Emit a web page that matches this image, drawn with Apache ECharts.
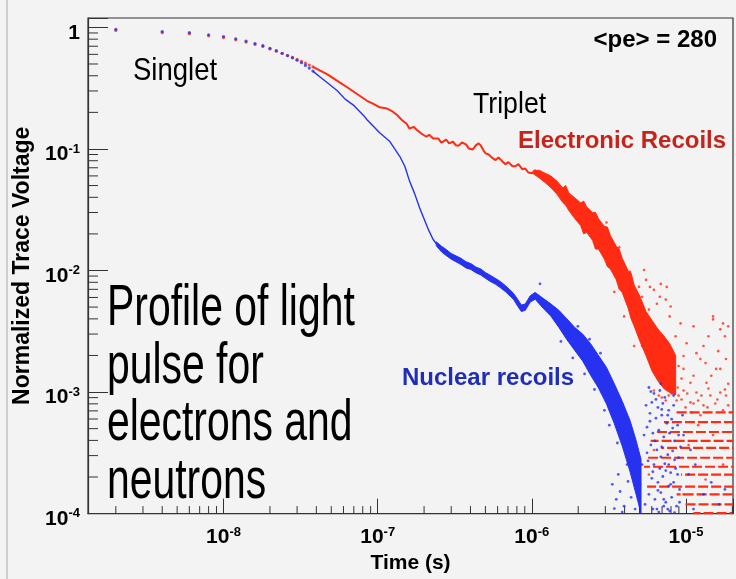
<!DOCTYPE html>
<html><head><meta charset="utf-8">
<script src="https://cdn.jsdelivr.net/npm/echarts@6/dist/echarts.min.js"></script>
<style>html,body{margin:0;padding:0;background:#f3f3f3;}#c{width:736px;height:579px;}</style>
</head><body><div id="c"></div>
<script>
// ---------- axis ranges ----------
const X_MIN = 1.32e-9, X_MAX = 2.02e-5;
const Y_MIN = 1e-4, Y_MAX = 1.195;

// ---------- early sampled points (2 ns steps) ----------
const earlyT  = [2e-9,4e-9,6e-9,8e-9,1.0e-8,1.2e-8,1.4e-8,1.6e-8,1.8e-8,2.0e-8,2.2e-8,2.4e-8,2.6e-8,2.8e-8,3.0e-8,3.2e-8,3.4e-8,3.6e-8,3.8e-8];
const nrEarly = [0.965,0.925,0.905,0.870,0.842,0.805,0.772,0.737,0.707,0.673,0.644,0.613,0.586,0.562,0.537,0.512,0.487,0.463,0.437];
const erEarly = [0.945,0.905,0.888,0.852,0.825,0.790,0.758,0.724,0.697,0.665,0.638,0.610,0.586,0.566,0.545,0.525,0.508,0.490,0.474];

// ---------- Electronic recoils: continuous trace ----------
const erLineT = [3.8e-8,4.0e-8,4.72e-8,5.47e-8,6.34e-8,7.35e-8,8.53e-8,9.46e-8,1.03e-7,1.15e-7,1.23e-7,1.33e-7,1.43e-7,1.54e-7,1.61e-7,1.71e-7,1.79e-7,1.92e-7,2.07e-7,2.16e-7,2.29e-7,2.47e-7,2.58e-7,2.66e-7,2.78e-7,2.91e-7,3.08e-7,3.22e-7,3.37e-7,3.52e-7,3.74e-7,3.90e-7,4.14e-7,4.33e-7,4.52e-7,4.66e-7,4.87e-7,5.02e-7,5.25e-7,5.57e-7,5.82e-7,6.08e-7,6.45e-7,6.75e-7,7.06e-7,7.49e-7,7.83e-7,8.19e-7,8.69e-7,9.07e-7,9.49e-7,1.007e-6,1.05e-6,1.10e-6];
const erLineV = [0.474,0.458,0.411,0.363,0.322,0.283,0.249,0.234,0.220,0.215,0.206,0.191,0.174,0.161,0.147,0.152,0.144,0.134,0.126,0.131,0.122,0.122,0.113,0.115,0.1195,0.111,0.115,0.107,0.107,0.113,0.109,0.101,0.099,0.107,0.111,0.107,0.097,0.092,0.090,0.084,0.081,0.085,0.079,0.075,0.078,0.072,0.072,0.075,0.068,0.069,0.064,0.063,0.067,0.060];

// ---------- Electronic recoils: noisy band (upper / lower envelope) ----------
const erBandT  = [1.021e-6,1.115e-6,1.219e-6,1.332e-6,1.455e-6,1.591e-6,1.66e-6,1.738e-6,1.900e-6,2.076e-6,2.17e-6,2.268e-6,2.479e-6,2.59e-6,2.708e-6,2.959e-6,3.09e-6,3.233e-6,3.533e-6,3.69e-6,3.861e-6,4.219e-6,4.41e-6,4.610e-6,5.037e-6,5.504e-6,6.014e-6,6.572e-6,7.181e-6,7.847e-6,8.575e-6];
const erBandHi = [0.0660,0.0669,0.0632,0.0598,0.0544,0.0477,0.0500,0.0435,0.0396,0.0360,0.0372,0.0334,0.0299,0.0300,0.0267,0.0230,0.0228,0.0194,0.0158,0.0150,0.0126,0.0099,0.0095,0.0076,0.0061,0.0046,0.0039,0.0033,0.0029,0.0025,0.0020];
const erBandLo = [0.0625,0.0580,0.0530,0.0480,0.0425,0.0362,0.0345,0.0312,0.0268,0.0234,0.0200,0.0206,0.0177,0.0150,0.0150,0.0124,0.0108,0.0103,0.0084,0.0070,0.0066,0.0049,0.0040,0.0035,0.0026,0.0020,0.0015,0.00124,0.00107,0.00099,0.00095];

// ---------- Electronic recoils: scattered late samples ----------
const erDots = [[5.51e-6,8.37e-3],[6.20e-6,6.93e-3],[6.87e-6,7.76e-3],[7.51e-6,7.33e-3],[7.40e-6,5.76e-3],[7.96e-6,5.05e-3],[5.75e-6,4.77e-3],[6.48e-6,5.33e-3],[5.35e-6,1.01e-2],[9.23e-6,3.67e-3],[1.01e-5,2.52e-3],[1.24e-5,1.87e-3],[1.50e-5,3.96e-3],[1.67e-5,3.28e-3],[1.79e-5,2.88e-3],[1.12e-5,1.36e-3],[1.36e-5,1.19e-3],[1.57e-5,1.55e-3],[1.82e-5,1.87e-3],[1.17e-5,9.92e-4],[1.44e-5,9.37e-4],[1.67e-5,9.92e-4],[1.07e-5,8.22e-4],[1.30e-5,7.77e-4],[1.88e-5,7.77e-4],[1.50e-5,4.19e-3],[1.74e-5,3.67e-3],[1.17e-5,2.09e-3],[1.34e-5,1.73e-3],[1.67e-5,1.55e-3],[9.65e-6,1.55e-3],[1.07e-5,1.19e-3],[1.82e-5,9.37e-4],[8.96e-6,9.37e-4],[9.65e-6,1.03e-3],[9.94e-6,7.48e-4],[1.20e-5,8.53e-4],[1.40e-5,1.07e-3],[1.55e-5,8.06e-4],[1.74e-5,7.07e-4],[1.24e-5,6.45e-4],[1.087e-5,6.81e-4],[9.37e-6,1.29e-3],[1.46e-5,1.36e-3],[1.88e-5,1.17e-3],[3.05e-6,2.48e-2],[3.69e-6,1.55e-2],[4.34e-6,9.74e-3],[4.96e-6,7.33e-3],[5.19e-6,2.39e-3],[6.20e-6,1.03e-3],[6.97e-6,9.03e-4],[8.70e-6,8.53e-4],[7.73e-6,9.37e-4],[4.61e-6,2.39e-3],[3.97e-6,4.19e-3],[3.43e-6,6.67e-3],
  [6.67e-6,9.37e-4],[7.40e-6,8.53e-4],[8.08e-6,9.74e-4],[8.83e-6,1.09e-3],[9.37e-6,8.69e-4],[1.02e-5,9.74e-4],[1.12e-5,8.06e-4],[1.26e-5,9.37e-4],[1.38e-5,7.48e-4],[1.60e-5,8.69e-4],[1.79e-5,1.05e-3],[9.65e-6,1.98e-3],[1.30e-5,2.39e-3],[1.62e-5,2.17e-3],[1.88e-5,3.47e-3],[1.12e-5,3.47e-3],[1.40e-5,2.88e-3],[8.96e-6,1.64e-3],[5.19e-6,6.09e-3],[5.84e-6,7.33e-3],[6.77e-6,6.09e-3],[7.84e-6,4.19e-3],[8.57e-6,2.88e-3],[8.32e-6,1.98e-3],[1.20e-5,5.34e-4],[1.50e-5,4.43e-4],[1.04e-5,3.67e-4],[1.74e-5,2.53e-4],[1.34e-5,1.91e-4],[9.65e-6,1.44e-4],[6.20e-6,3.34e-4],[5.75e-6,2.10e-4]];

// ---------- Electronic recoils: quantised levels at late times ----------
const erRowLevel = [6.81e-4,5.65e-4,4.69e-4,3.96e-4,3.47e-4,2.88e-4,2.43e-4,2.09e-4,1.67e-4,1.44e-4,1.19e-4,1.01e-4];
const erRowStart = [8.7e-6,7.2e-6,6.2e-6,5.9e-6,6.9e-6,5.6e-6,5.35e-6,9.3e-6,5.6e-6,8.7e-6,9.65e-6,1.12e-5];

// ---------- Nuclear recoils: continuous trace ----------
const nrLineT = [3.8e-8,4.25e-8,4.72e-8,5.47e-8,6.15e-8,7.03e-8,8.15e-8,8.53e-8,1.03e-7,1.20e-7,1.39e-7,1.50e-7,1.61e-7,1.74e-7,1.87e-7,2.01e-7,2.13e-7,2.29e-7,2.40e-7];
const nrLineV = [0.437,0.389,0.350,0.301,0.257,0.227,0.187,0.174,0.136,0.115,0.087,0.0721,0.0544,0.0427,0.0328,0.0262,0.0218,0.0180,0.0166];

// ---------- Nuclear recoils: noisy band ----------
const nrBandT  = [2.40e-7,2.60e-7,2.78e-7,3.00e-7,3.22e-7,3.47e-7,3.74e-7,4.02e-7,4.33e-7,4.66e-7,5.02e-7,5.41e-7,5.82e-7,6.27e-7,6.75e-7,7.60e-7,8.09e-7,8.55e-7,9.07e-7,9.77e-7,1.051e-6,1.184e-6,1.332e-6,1.499e-6,1.688e-6,1.900e-6,2.138e-6,2.406e-6,2.708e-6,3.048e-6,3.430e-6,3.861e-6,4.345e-6,4.748e-6,5.112e-6];
const nrBandHi = [0.0172,0.0158,0.0149,0.0138,0.0132,0.0126,0.0118,0.0114,0.0107,0.0103,0.0096,0.0091,0.0086,0.0081,0.0075,0.0065,0.0058,0.0052,0.0053,0.0062,0.0066,0.0059,0.0053,0.0047,0.0040,0.0034,0.0030,0.0025,0.0020,0.0016,0.00117,0.00084,0.00058,0.00040,0.00028];
const nrBandLo = [0.0160,0.0142,0.0133,0.0124,0.0118,0.0112,0.0105,0.0102,0.0096,0.0092,0.0086,0.0081,0.0077,0.0072,0.0067,0.0058,0.0051,0.0046,0.0047,0.0055,0.0058,0.0049,0.0042,0.0034,0.0027,0.0022,0.0018,0.00138,0.00108,0.00080,0.00055,0.00036,0.00022,0.000144,0.0001];

// ---------- Nuclear recoils: scattered late samples ----------
const nrDots = [[5.75e-6,1.09e-3],[6.20e-6,9.74e-4],[6.77e-6,1.03e-3],[7.29e-6,9.03e-4],[6.01e-6,8.22e-4],[6.58e-6,7.48e-4],[7.08e-6,8.06e-4],[7.73e-6,7.07e-4],[8.32e-6,7.77e-4],[5.84e-6,6.68e-4],[6.39e-6,6.10e-4],[6.97e-6,6.45e-4],[7.51e-6,5.54e-4],[8.08e-6,5.98e-4],[8.83e-6,5.34e-4],[5.59e-6,5.14e-4],[6.10e-6,4.59e-4],[6.67e-6,4.86e-4],[7.18e-6,4.27e-4],[7.84e-6,4.59e-4],[8.44e-6,3.96e-4],[5.92e-6,3.67e-4],[6.48e-6,3.34e-4],[6.97e-6,3.54e-4],[7.62e-6,3.05e-4],[8.20e-6,3.28e-4],[8.96e-6,2.88e-4],[5.68e-6,2.72e-4],[6.20e-6,2.53e-4],[6.77e-6,2.35e-4],[7.29e-6,2.57e-4],[7.96e-6,2.17e-4],[8.57e-6,2.35e-4],[6.01e-6,1.95e-4],[6.58e-6,1.81e-4],[7.08e-6,2.02e-4],[7.73e-6,1.68e-4],[8.32e-6,1.81e-4],[9.09e-6,1.58e-4],[5.75e-6,1.44e-4],[6.29e-6,1.31e-4],[6.87e-6,1.49e-4],[7.40e-6,1.24e-4],[8.08e-6,1.36e-4],[8.70e-6,1.15e-4],[6.10e-6,1.09e-4],[6.67e-6,1.03e-4],[7.18e-6,1.15e-4],[7.84e-6,1.05e-4],[8.44e-6,1.02e-4],[3.33e-6,1.74e-4],[3.53e-6,1.31e-4],[3.74e-6,1.52e-4],[3.97e-6,1.15e-4],[4.21e-6,1.84e-4],[4.41e-6,1.36e-4],[4.68e-6,1.09e-4],[3.64e-6,2.10e-4],[4.15e-6,2.53e-4],[4.96e-6,1.58e-4],[3.86e-6,1.03e-4],[3.43e-6,1.10e-4],[1.04e-5,2.10e-4],[1.15e-5,2.53e-4],[1.30e-5,1.44e-4],[1.46e-5,1.81e-4],[1.64e-5,1.19e-4],[1.79e-5,1.58e-4],[1.12e-5,1.09e-4],[9.65e-6,4.43e-4],[1.07e-5,3.34e-4],[1.545e-6,2.61e-3],[1.844e-6,1.91e-3],[2.20e-6,1.41e-3],[2.55e-6,1.05e-3],[2.96e-6,7.07e-4],[3.185e-6,5.34e-4],[3.59e-6,3.81e-4],[1.99e-6,3.47e-3],[2.37e-6,2.72e-3],[2.79e-6,2.09e-3],[1.13e-6,7.77e-3],
  [5.92e-6,1.01e-3],[6.39e-6,8.69e-4],[6.97e-6,7.20e-4],[7.62e-6,6.45e-4],[8.20e-6,5.05e-4],[8.96e-6,4.43e-4],[5.84e-6,5.75e-4],[6.29e-6,3.96e-4],[6.87e-6,2.93e-4],[7.40e-6,2.26e-4],[7.96e-6,1.74e-4],[8.83e-6,2.10e-4],[5.59e-6,3.16e-4],[6.10e-6,2.21e-4],[6.58e-6,1.55e-4],[7.18e-6,1.31e-4],[7.73e-6,2.53e-4],[8.44e-6,2.77e-4],[9.23e-6,3.54e-4],[9.51e-6,6.45e-4],[5.51e-6,7.77e-4],[5.35e-6,4.43e-4],[5.19e-6,2.53e-4],[5.04e-6,1.74e-4],[5.43e-6,1.19e-4],[6.48e-6,1.09e-4],[7.62e-6,1.09e-4],[9.09e-6,1.24e-4],[8.32e-6,9.37e-4],[6.87e-6,1.17e-3]];

// ---------- styles ----------
const RED = '#ff2b12', BLUE = '#2632f0';
const FONT = '"Liberation Sans", Arial, Helvetica, sans-serif';
const AX = '#333';

function powLabel(v) {
  const e = Math.log10(v), r = Math.round(e);
  if (Math.abs(e - r) > 1e-6) return '';
  if (r === 0) return '{b|1}';
  return '{b|10}{s|' + r + '}';
}
const rich = {
  b: {fontSize: 21, fontWeight: 'bold', fontFamily: FONT, color: '#000', lineHeight: 24},
  s: {fontSize: 13, fontWeight: 'bold', fontFamily: FONT, color: '#000', lineHeight: 11, verticalAlign: 'top'}
};

// minor log ticks (2..9 per decade)
const xMinor = [], yMinor = [];
for (let d = -9; d <= -4; d++) for (let k = 2; k <= 9; k++) { const v = k * Math.pow(10, d); if (v > X_MIN && v < X_MAX) xMinor.push([v, Y_MIN]); }
for (let d = -4; d <= 0; d++) for (let k = 2; k <= 9; k++) { const v = k * Math.pow(10, d); if (v > Y_MIN && v < Y_MAX) yMinor.push([X_MIN, v]); }

function bandSeries(T, HI, LO, color) {
  return {
    type: 'custom', coordinateSystem: 'cartesian2d', silent: true, clip: true,
    data: [[T[0], HI[0]]],
    renderItem: function (params, api) {
      const pts = [];
      for (let i = 0; i < T.length; i++) pts.push(api.coord([T[i], HI[i]]));
      for (let i = T.length - 1; i >= 0; i--) pts.push(api.coord([T[i], LO[i]]));
      return {type: 'polygon', shape: {points: pts}, style: {fill: color, stroke: color, lineWidth: 1}};
    }
  };
}
function zip(T, V) { return T.map((t, i) => [t, V[i]]); }

const option = {
  animation: false,
  backgroundColor: '#f3f3f3',
  grid: {left: 88, top: 18, right: -4, bottom: 58, show: true, borderColor: AX, borderWidth: 1.2, backgroundColor: 'transparent'},
  xAxis: {
    type: 'log', logBase: 10, min: X_MIN, max: X_MAX,
    name: 'Time (s)', nameLocation: 'middle', nameGap: 32,
    nameTextStyle: {fontSize: 21, fontWeight: 'bold', fontFamily: FONT, color: '#000'},
    axisLine: {lineStyle: {color: AX, width: 1.2}},
    axisTick: {inside: true, length: 15, lineStyle: {color: AX, width: 1}},
    axisLabel: {formatter: powLabel, rich: rich, margin: 12},
    splitLine: {show: false}, minorTick: {show: false}
  },
  yAxis: {
    type: 'log', logBase: 10, min: Y_MIN, max: Y_MAX,
    name: 'Normalized Trace Voltage', nameLocation: 'middle', nameGap: 42, nameRotate: 90,
    nameTextStyle: {fontSize: 23, fontWeight: 'bold', fontFamily: FONT, color: '#000'},
    axisLine: {lineStyle: {color: AX, width: 1.2}},
    axisTick: {inside: true, length: 20, lineStyle: {color: AX, width: 1}},
    axisLabel: {formatter: powLabel, rich: rich, margin: 8, padding: [11, 0, 0, 0]},
    splitLine: {show: false}, minorTick: {show: false}
  },
  series: [
    bandSeries(erBandT, erBandHi, erBandLo, RED),
    {type: 'line', data: zip(erLineT, erLineV), showSymbol: false, silent: true, lineStyle: {color: RED, width: 2}},
    {type: 'custom', silent: true, data: erRowLevel.map((v, i) => [erRowStart[i], v]),
      renderItem: function (params, api) {
        const i = params.dataIndex;
        const p1 = api.coord([erRowStart[i], erRowLevel[i]]);
        const p2 = api.coord([X_MAX, erRowLevel[i]]);
        return {type: 'line', shape: {x1: p1[0], y1: p1[1], x2: p2[0], y2: p2[1]},
          style: {stroke: RED, lineWidth: 2.2, lineDash: [10, 3], lineDashOffset: i * 5}};
      }},
    {type: 'scatter', data: erDots, symbolSize: 2.6, silent: true, itemStyle: {color: RED}},
    {type: 'scatter', data: zip(earlyT, erEarly), symbolSize: 3.2, silent: true, itemStyle: {color: RED}},
    bandSeries(nrBandT, nrBandHi, nrBandLo, BLUE),
    {type: 'line', data: zip(nrLineT, nrLineV), showSymbol: false, silent: true, lineStyle: {color: BLUE, width: 1.4}},
    {type: 'scatter', data: nrDots, symbolSize: 2.8, silent: true, itemStyle: {color: BLUE}},
    {type: 'scatter', data: zip(earlyT, nrEarly), symbolSize: 3.2, silent: true, itemStyle: {color: BLUE}},
    {type: 'custom', silent: true, data: xMinor, renderItem: function (params, api) {
      const p = api.coord([api.value(0), Y_MIN]);
      return {type: 'line', shape: {x1: p[0], y1: p[1], x2: p[0], y2: p[1] - 7.5}, style: {stroke: AX, lineWidth: 1}};
    }},
    {type: 'custom', silent: true, data: yMinor, renderItem: function (params, api) {
      const p = api.coord([X_MIN, api.value(1)]);
      return {type: 'line', shape: {x1: p[0], y1: p[1], x2: p[0] + 10, y2: p[1]}, style: {stroke: AX, lineWidth: 1}};
    }}
  ],
  graphic: [
    {type: 'line', shape: {x1: 7, y1: 0, x2: 7, y2: 579}, style: {stroke: '#a8a8a8', lineWidth: 1}, silent: true},
    {type: 'text', x: 133, y: 71.5, scaleX: 0.86, silent: true, style: {x: 0, y: 0, text: 'Singlet', font: '32px ' + FONT, fill: '#000', align: 'left', verticalAlign: 'middle', textAlign: 'left', textVerticalAlign: 'middle'}},
    {type: 'text', x: 473, y: 104.6, scaleX: 0.92, silent: true, style: {x: 0, y: 0, text: 'Triplet', font: '29px ' + FONT, fill: '#000', align: 'left', verticalAlign: 'middle', textAlign: 'left', textVerticalAlign: 'middle'}},
    {type: 'text', x: 717, y: 40, silent: true, style: {x: 0, y: 0, text: '<pe> = 280', font: 'bold 24px ' + FONT, fill: '#000', align: 'right', verticalAlign: 'middle', textAlign: 'right', textVerticalAlign: 'middle'}},
    {type: 'text', x: 518, y: 141.7, silent: true, style: {x: 0, y: 0, text: 'Electronic Recoils', font: 'bold 24px ' + FONT, fill: '#c8231a', align: 'left', verticalAlign: 'middle', textAlign: 'left', textVerticalAlign: 'middle'}},
    {type: 'text', x: 402, y: 378.5, silent: true, style: {x: 0, y: 0, text: 'Nuclear recoils', font: 'bold 24px ' + FONT, fill: '#1f2db8', align: 'left', verticalAlign: 'middle', textAlign: 'left', textVerticalAlign: 'middle'}},
    {type: 'text', x: 107, y: 309, scaleX: 0.705, silent: true, style: {x: 0, y: 0, text: 'Profile of light', font: '58px ' + FONT, fill: '#000', align: 'left', verticalAlign: 'middle', textAlign: 'left', textVerticalAlign: 'middle'}},
    {type: 'text', x: 107, y: 366.5, scaleX: 0.705, silent: true, style: {x: 0, y: 0, text: 'pulse for', font: '58px ' + FONT, fill: '#000', align: 'left', verticalAlign: 'middle', textAlign: 'left', textVerticalAlign: 'middle'}},
    {type: 'text', x: 107, y: 424, scaleX: 0.705, silent: true, style: {x: 0, y: 0, text: 'electrons and', font: '58px ' + FONT, fill: '#000', align: 'left', verticalAlign: 'middle', textAlign: 'left', textVerticalAlign: 'middle'}},
    {type: 'text', x: 107, y: 481.5, scaleX: 0.705, silent: true, style: {x: 0, y: 0, text: 'neutrons', font: '58px ' + FONT, fill: '#000', align: 'left', verticalAlign: 'middle', textAlign: 'left', textVerticalAlign: 'middle'}}
  ]
};
const chart = echarts.init(document.getElementById('c'), null, {renderer: 'canvas', width: 736, height: 579});
chart.setOption(option);
</script>
</body></html>
